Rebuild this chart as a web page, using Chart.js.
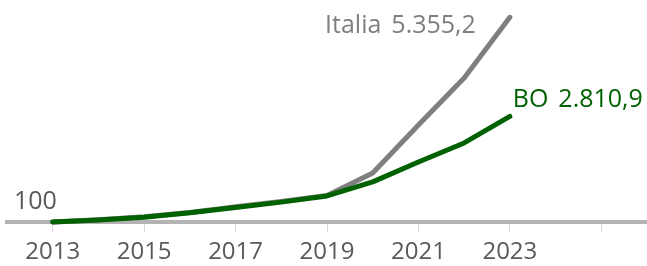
<!DOCTYPE html>
<html>
<head>
<meta charset="utf-8">
<script src="https://cdn.jsdelivr.net/npm/chart.js@4.4.0/dist/chart.umd.min.js"></script>
<style>
  html, body { margin:0; padding:0; background:#fff; }
  #wrap { width:647px; height:266px; position:relative; }
</style>
</head>
<body>
<div id="wrap"><canvas id="chart"></canvas></div>
<script>
// index numbers, 2013 = 100
const YEARS = [2013, 2014, 2015, 2016, 2017, 2018, 2019, 2020, 2021, 2022, 2023];
const ITALIA = [100, 160, 235, 345, 490, 630, 780, 1360, 2590, 3800, 5355.2];
const BO = [100, 150, 220, 335, 470, 610, 770, 1130, 1640, 2130, 2810.9];
const X_TICKS = [2013, 2015, 2017, 2019, 2021, 2023, 2025];
const X_TICK_LABELS = ['2013', '2015', '2017', '2019', '2021', '2023', ''];
const BASE_LABEL = '100';

const GREY = '#7f7f7f';
const GREEN = '#006100';
const FONT = '"Open Sans", "DejaVu Sans", sans-serif';

// 5355.2 -> "5.355,2"
function fmtIt(v) {
  const parts = v.toFixed(1).split('.');
  const int = parts[0].replace(/\B(?=(\d{3})+(?!\d))/g, '.');
  return int + ',' + parts[1];
}

function toPoints(arr) {
  return YEARS.map((y, i) => ({ x: y, y: arr[i] }));
}

// draws the "100" base label and the end-of-line labels
const labelsPlugin = {
  id: 'labels',
  afterDatasetsDraw(chart) {
    const ctx = chart.ctx;
    const xs = chart.scales.x, ys = chart.scales.y;
    ctx.save();
    ctx.font = '25px ' + FONT;
    ctx.textBaseline = 'middle';

    ctx.fillStyle = '#595959';
    ctx.textAlign = 'left';
    ctx.fillText(BASE_LABEL, 14, ys.getPixelForValue(100) - 20);

    const last = YEARS.length - 1;
    // Italia: left of the end point
    let px = xs.getPixelForValue(YEARS[last]);
    let py = ys.getPixelForValue(ITALIA[last]);
    ctx.fillStyle = GREY;
    ctx.textAlign = 'right';
    const itVal = fmtIt(ITALIA[last]);
    ctx.fillText(itVal, px - 34, py + 9);
    const w1 = ctx.measureText(itVal).width;
    ctx.fillText('Italia', px - 34 - w1 - 10, py + 9);

    // BO: right of / above the end point, value ends near the canvas edge
    py = ys.getPixelForValue(BO[last]);
    ctx.fillStyle = GREEN;
    const boVal = fmtIt(BO[last]);
    ctx.fillText(boVal, px + 133, py - 17);
    const w2 = ctx.measureText(boVal).width;
    ctx.fillText('BO', px + 133 - w2 - 10, py - 17);
    ctx.restore();
  }
};

new Chart(document.getElementById('chart'), {
  type: 'line',
  data: {
    datasets: [
      { label: 'Italia', data: toPoints(ITALIA), borderColor: GREY, borderWidth: 5, order: 2,
        pointRadius: 0, tension: 0, borderCapStyle: 'round', borderJoinStyle: 'round', clip: false },
      { label: 'BO', data: toPoints(BO), borderColor: GREEN, borderWidth: 5, order: 1,
        pointRadius: 0, tension: 0, borderCapStyle: 'round', borderJoinStyle: 'round', clip: false }
    ]
  },
  options: {
    responsive: true,
    maintainAspectRatio: false,
    animation: false,
    layout: { padding: { left: 7, right: 0, top: 0, bottom: 0 } },
    plugins: { legend: { display: false }, tooltip: { enabled: false } },
    scales: {
      x: {
        type: 'linear',
        min: 2012,
        max: 2026,
        afterBuildTicks: (scale) => { scale.ticks = X_TICKS.map(v => ({ value: v })); },
        afterFit: (scale) => { scale.height = 44; },
        ticks: {
          autoSkip: false,
          maxRotation: 0,
          padding: 6,
          color: '#595959',
          font: { family: FONT, size: 24 },
          callback: (v) => X_TICK_LABELS[X_TICKS.indexOf(v)]
        },
        grid: { drawOnChartArea: false, drawTicks: true, tickLength: 10, color: '#d9d9d9', lineWidth: 1 },
        border: { display: true, color: '#b3b3b3', width: 4 }
      },
      y: {
        display: false,
        min: 100,
        max: 5800
      }
    }
  },
  plugins: [labelsPlugin]
});
</script>
</body>
</html>
